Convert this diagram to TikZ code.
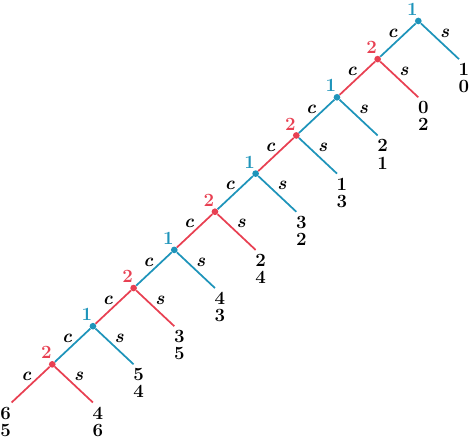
\documentclass[tikz,border=0pt]{standalone}
\usetikzlibrary{calc}
\definecolor{pone}{RGB}{30,148,186}
\definecolor{ptwo}{RGB}{232,64,82}
\begin{document}
\begin{tikzpicture}[x=0.75pt,y=-0.75pt,
  edge/.style={line width=1.3pt},
  dot/.style={circle,fill,inner sep=0pt,minimum size=5pt},
  plab/.style={font=\fontsize{14}{14}\selectfont\bfseries,inner sep=0pt},
  elab/.style={font=\fontsize{14}{14}\selectfont\bfseries\itshape,inner sep=0pt},
  pay/.style={font=\fontsize{14}{12.8}\selectfont\bfseries,align=center,inner sep=0pt,anchor=north}]
\useasboundingbox (0,0) rectangle (471,438);
% decision nodes
\foreach \k/\col/\pl in {0/pone/1,1/ptwo/2,2/pone/1,3/ptwo/2,4/pone/1,5/ptwo/2,6/pone/1,7/ptwo/2,8/pone/1,9/ptwo/2} {
  \pgfmathsetmacro\xx{418.3-40.67*\k}
  \pgfmathsetmacro\yy{21+38.15*\k}
  \node[dot,fill=\col] (n\k) at (\xx,\yy) {};
  \node[plab,text=\col] (p\k) at (\xx-6,\yy-11.5) {\pl};
  \coordinate (s\k) at (\xx+40.67,\yy+38.15);
}
\coordinate (cl) at ($(n9)+(-40.67,38.15)$);
% continue edges
\foreach \k/\kk/\col in {0/1/pone,1/2/ptwo,2/3/pone,3/4/ptwo,4/5/pone,5/6/ptwo,6/7/pone,7/8/ptwo,8/9/pone} {
  \draw[edge,draw=\col] (n\k) -- (n\kk);
  \node[elab] (lc\k) at ($(n\k)!0.5!(n\kk)+(-5.5,-7)$) {c};
}
\draw[edge,draw=ptwo] (n9) -- (cl);
\node[elab] (lc9) at ($(n9)!0.5!(cl)+(-5.5,-7)$) {c};
% stop edges
\foreach \k/\col in {0/pone,1/ptwo,2/pone,3/pone,4/pone,5/ptwo,6/pone,7/ptwo,8/pone,9/ptwo} {
  \draw[edge,draw=\col] (n\k) -- (s\k);
  \node[elab] (ls\k) at ($(n\k)!0.5!(s\k)+(6,-7)$) {s};
}
% payoffs
\foreach \k/\a/\b in {0/1/0,1/0/2,2/2/1,3/1/3,4/3/2,5/2/4,6/4/3,7/3/5,8/5/4,9/4/6} {
  \node[pay] (v\k) at ($(s\k)+(5,4)$) {\a\\\b};
}
\node[pay] (vc) at ($(cl)+(-6,4)$) {6\\5};
\end{tikzpicture}
\end{document}
